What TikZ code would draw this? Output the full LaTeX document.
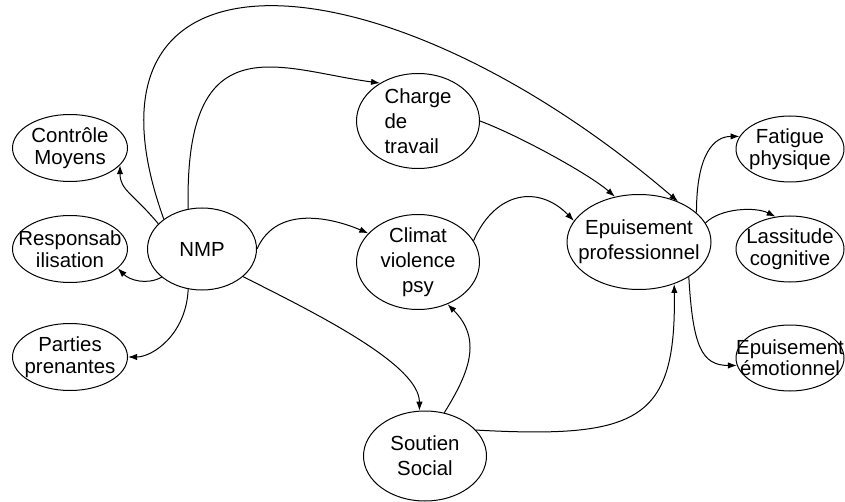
\documentclass[tikz,border=0pt]{standalone}
\usepackage{fontspec}
\setmainfont{Liberation Sans}
\usetikzlibrary{shapes}
\usetikzlibrary{arrows.meta}
\tikzstyle{bubble}=[ellipse,draw,line width=0.5pt,inner sep=-8pt,align=center,font=\fontsize{10.2}{11}\selectfont]
\tikzstyle{smallbubble}=[bubble,minimum width=57.5pt,minimum height=33.5pt]
\tikzstyle{sidebubble}=[bubble,minimum width=54pt,minimum height=33pt]
\tikzstyle{bigbubble}=[bubble,minimum width=61.5pt,minimum height=47.5pt,font=\fontsize{10.2}{12.5}\selectfont]
\tikzstyle{edge}=[draw,line width=0.5pt,-{Latex[length=4.5pt,width=3.2pt]}]

\begin{document}
\begin{tikzpicture}[x=0.5pt,y=-0.5pt]
    \useasboundingbox (0,0) rectangle (845,502);

    % left column
    \foreach \pos/\name/\txt in {{(70,148)/ctrl/{Contrôle\\Moyens}}, {(70,249)/resp/{Responsab\\ilisation}}, {(70,357)/part/{Parties\\prenantes}}}
            \node[smallbubble] (\name) at \pos {\txt};
    % right column
    \foreach \pos/\name/\txt in {{(790,149)/fat/{Fatigue\\physique}}, {(790,249)/lass/{Lassitude\\cognitive}}}
            \node[sidebubble] (\name) at \pos {\txt};
    \node[sidebubble, font=\fontsize{10.2}{9.5}\selectfont] (emo) at (790,358) {Epuisement\\émotionnel};

    \node[bubble, minimum width=54.5pt, minimum height=41pt] (nmp) at (202,249) {NMP};
    \node[bigbubble, align=left] (charge) at (418,121) {Charge\\de\\travail};
    \node[bigbubble] (climat) at (418,262) {Climat\\violence\\psy};
    \node[bigbubble, minimum width=72pt] (epu) at (639,242) {Epuisement\\professionnel};
    \node[bigbubble, minimum height=45pt] (soutien) at (425,456) {Soutien\\Social};

    % Connect bubbles with curved arrows
    \foreach \source/\dest/\ax/\ay/\bx/\by in {nmp.150/ctrl.-19/-25/-30/0/25, nmp.-145/resp.-22/-15/8/12/12,
            nmp.-109/part.0/-2/45/25/0, nmp.142/epu.46/-104/-289/-298/-255,
            nmp.109/charge.135/-4/-189/-99/-13, charge.0/epu.118/40/15/-25/-22,
            nmp.0/climat.150/20/-45/-35/-15, climat.21/epu.162/22/-50/-35/-36,
            soutien.66/climat.-55/25/-40/35/35, nmp.-34/soutien.97/80/40/0/-45,
            soutien.27/epu.-50/164/9/2/136, epu.27/fat.166/0/-60/-25/0,
            epu.16/lass.114/15/-15/-20/-10, epu.-35/emo.-172/4/70/-35/0}
            \path[edge] (\source) .. controls +(\ax,\ay) and +(\bx,\by) .. (\dest);

\end{tikzpicture}
\end{document}
